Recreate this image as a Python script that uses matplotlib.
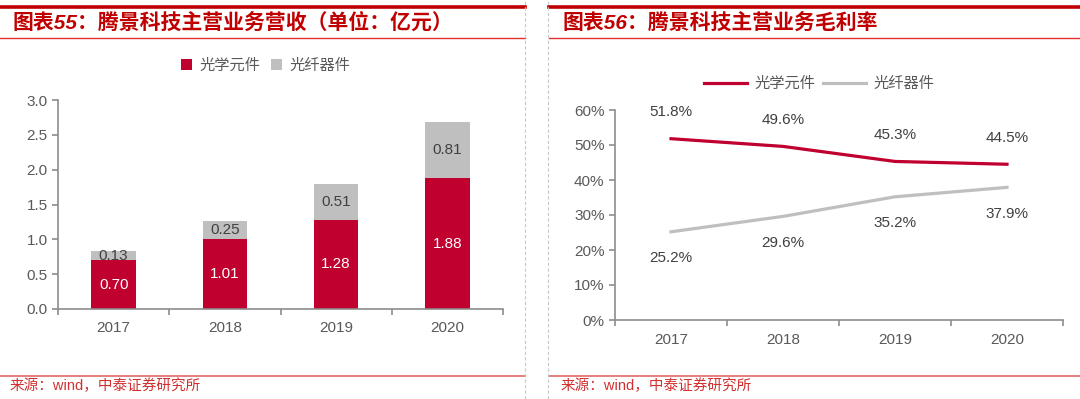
# Tengjing Tech: revenue by segment and gross margin
import matplotlib.pyplot as plt
from matplotlib.lines import Line2D
from matplotlib.ticker import FixedLocator, FuncFormatter

years = ["2017", "2018", "2019", "2020"]
optic_rev = [0.70, 1.01, 1.28, 1.88]
fiber_rev = [0.13, 0.25, 0.51, 0.81]
optic_margin = [51.8, 49.6, 45.3, 44.5]
fiber_margin = [25.2, 29.6, 35.2, 37.9]

series_names = ["光学元件", "光纤器件"]
title_left = "图表55：腾景科技主营业务营收（单位：亿元）"
title_right = "图表56：腾景科技主营业务毛利率"
source = "来源：wind，中泰证券研究所"

RED = "#C0002F"
GREY = "#BFBFBF"
DARKRED = "#C00000"
TXT = "#595959"
AXC = "#8C8C8C"

FW, FH = 1080, 399
plt.rcParams["font.family"] = ["Liberation Sans", "Noto Sans CJK SC", "DejaVu Sans"]


def fx(px):
    return px / FW


def fy(py):
    return 1 - py / FH


fig = plt.figure(figsize=(FW / 100, FH / 100), dpi=100)


def hline(x0, x1, y, color, lw):
    fig.add_artist(Line2D([fx(x0), fx(x1)], [fy(y), fy(y)], transform=fig.transFigure,
                          color=color, lw=lw))


def vdash(x):
    fig.add_artist(Line2D([fx(x), fx(x)], [0, 1], transform=fig.transFigure,
                          color="#C8C8C8", lw=0.8, ls=(0, (3, 2))))


# panel frames
for x0, x1 in [(0, 525), (549, 1080)]:
    hline(x0, x1, 7, DARKRED, 2.6)
    hline(x0, x1, 38, "#E03030", 1.0)
    hline(x0, x1, 376, "#E06868", 1.2)
vdash(525)
vdash(548)

title_kw = dict(fontsize=15, color=DARKRED, weight="bold", va="center", ha="left",
                style="italic")
fig.text(fx(12), fy(23), title_left, **title_kw)
fig.text(fx(563), fy(23), title_right, **title_kw)
src_kw = dict(fontsize=10.5, color="#D03030", va="center", ha="left")
fig.text(fx(10), fy(386), source, **src_kw)
fig.text(fx(561), fy(386), source, **src_kw)


def style_axes(ax):
    for s in ["top", "right"]:
        ax.spines[s].set_visible(False)
    for s in ["left", "bottom"]:
        ax.spines[s].set_color(AXC)
        ax.spines[s].set_linewidth(1.2)
    ax.set_xlim(-0.5, 3.5)
    ax.set_xticks(range(len(years)))
    ax.set_xticklabels(years)
    ax.xaxis.set_minor_locator(FixedLocator([-0.5, 0.5, 1.5, 2.5, 3.5]))
    ax.tick_params(axis="x", which="major", length=0, pad=9, labelsize=11, labelcolor=TXT)
    ax.tick_params(axis="x", which="minor", length=4.5, width=1.2, color=AXC)
    ax.tick_params(axis="y", length=4.5, width=1.2, color=AXC, labelsize=11,
                   labelcolor=TXT, pad=3)


# left: stacked bars
ax1 = fig.add_axes([fx(58), fy(309), fx(503) - fx(58), fy(100) - fy(309)])
x = range(len(years))
b1 = ax1.bar(x, optic_rev, width=0.4, color=RED, label=series_names[0])
b2 = ax1.bar(x, fiber_rev, width=0.4, bottom=optic_rev, color=GREY, label=series_names[1])
ax1.bar_label(b1, labels=[f"{v:.2f}" for v in optic_rev], label_type="center",
              color="white", fontsize=11)
ax1.bar_label(b2, labels=[f"{v:.2f}" for v in fiber_rev], label_type="center",
              color="#404040", fontsize=11)
ax1.set_ylim(0, 3.0)
ax1.set_yticks([0, 0.5, 1.0, 1.5, 2.0, 2.5, 3.0])
ax1.yaxis.set_major_formatter(FuncFormatter(lambda v, p: f"{v:.1f}"))
style_axes(ax1)
ax1.legend(loc="center", bbox_to_anchor=(fx(266), fy(66)), bbox_transform=fig.transFigure,
           ncol=2, frameon=False, fontsize=11, labelcolor=TXT, handlelength=0.7,
           handleheight=0.7, handletextpad=0.5, columnspacing=0.7)

# right: margin lines
ax2 = fig.add_axes([fx(615), fy(320), fx(1063) - fx(615), fy(110) - fy(320)])
ax2.plot(x, optic_margin, color=RED, lw=2.3, label=series_names[0])
ax2.plot(x, fiber_margin, color=GREY, lw=2.3, label=series_names[1])
for i, v in enumerate(optic_margin):
    ax2.annotate(f"{v:.1f}%", (i, v), xytext=(0, 19), textcoords="offset points",
                 ha="center", va="center", fontsize=11, color="#404040")
for i, v in enumerate(fiber_margin):
    ax2.annotate(f"{v:.1f}%", (i, v), xytext=(0, -19), textcoords="offset points",
                 ha="center", va="center", fontsize=11, color="#404040")
ax2.set_ylim(0, 60)
ax2.set_yticks(range(0, 61, 10))
ax2.yaxis.set_major_formatter(FuncFormatter(lambda v, p: f"{v:.0f}%"))
style_axes(ax2)
ax2.legend(loc="center", bbox_to_anchor=(fx(819), fy(84)), bbox_transform=fig.transFigure,
           ncol=2, frameon=False, fontsize=11, labelcolor=TXT, handlelength=2.8,
           handletextpad=0.5, columnspacing=0.5)

fig.savefig("out.png", dpi=100)
